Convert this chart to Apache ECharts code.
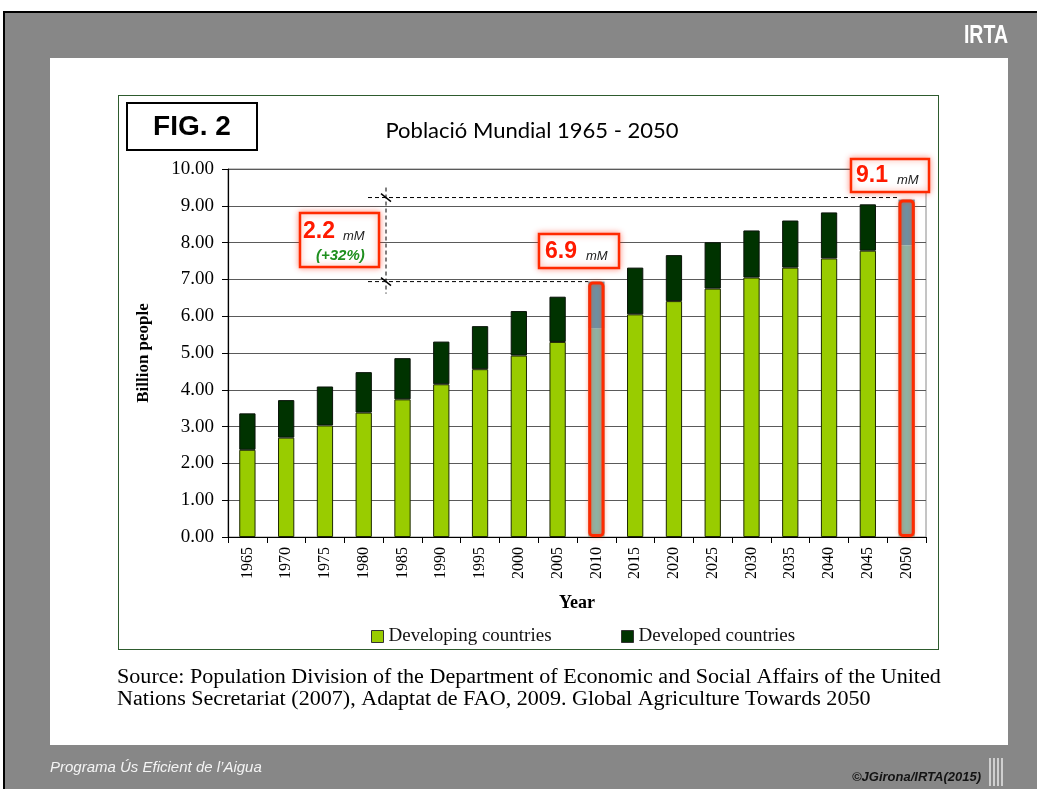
<!DOCTYPE html>
<html>
<head>
<meta charset="utf-8">
<script src="https://cdn.jsdelivr.net/npm/echarts@6/dist/echarts.min.js"></script>
<style>
html,body{margin:0;padding:0;width:1037px;height:789px;overflow:hidden;background:#fff;}
#frame{position:absolute;left:3px;top:11px;width:1040px;height:790px;background:#000;}
#gray{position:absolute;left:5px;top:13px;width:1040px;height:790px;background:#878787;}
#panel{position:absolute;left:50px;top:58px;width:958px;height:687px;background:#fff;}
#box{position:absolute;left:118px;top:95px;width:821px;height:555px;border:1.5px solid #2e5b2e;box-sizing:border-box;}
#chart{position:absolute;left:0;top:0;width:1037px;height:789px;}
</style>
</head>
<body>
<div id="frame"></div><div id="gray"></div><div id="panel"></div><div id="box"></div>
<div id="chart"></div>
<script>
// ---- data ----
const years = ['1965','1970','1975','1980','1985','1990','1995','2000','2005','2010','2015','2020','2025','2030','2035','2040','2045','2050'];
const developing = [2.37, 2.70, 3.03, 3.38, 3.74, 4.15, 4.56, 4.93, 5.30, 5.67, 6.05, 6.41, 6.75, 7.05, 7.32, 7.57, 7.78, 7.93];
const developed  = [0.99, 1.02, 1.06, 1.10, 1.12, 1.16, 1.17, 1.21, 1.23, 1.27, 1.27, 1.25, 1.26, 1.28, 1.28, 1.25, 1.26, 1.24];
const highlightYears = ['2010', '2050'];
const yMin = 0, yMax = 10, yStep = 1;
const seriesNames = ['Developing countries', 'Developed countries'];

const hiIdx = highlightYears.map(y => years.indexOf(y));
const totals = years.map((y, i) => +(developing[i] + developed[i]).toFixed(2));

const GREEN = '#99cc00', DARK = '#003300';
const HI_LOW = '#8fb3a3', HI_TOP = '#6f90a1', RED = '#ff2a00';
const serif = '"Liberation Serif","Times New Roman",serif';
const sans = '"Liberation Sans",Arial,sans-serif';

const devData = developing.map((v, i) => hiIdx.includes(i) ? {value: v, itemStyle: {color: HI_LOW, borderWidth: 0}} : v);
const dvdData = developed.map((v, i) => hiIdx.includes(i) ? {value: v, itemStyle: {color: HI_TOP, borderWidth: 0}} : v);
const outlineData = totals.map((v, i) => hiIdx.includes(i) ? v : null);

const chart = echarts.init(document.getElementById('chart'), null, {renderer: 'canvas'});
const BW = '42%';
const legendText = {fontFamily: serif, fontSize: 19, color: '#111'};
chart.setOption({
  animation: false,
  backgroundColor: 'transparent',
  grid: {left: 228, top: 169, width: 698, height: 368, show: true, borderColor: '#8a8a8a', borderWidth: 1, backgroundColor: 'transparent'},
  legend: [
    {data: [seriesNames[0]], left: 366, top: 622, itemWidth: 12, itemHeight: 12, icon: 'rect', itemGap: 0,
     textStyle: legendText, itemStyle: {borderColor: '#333', borderWidth: 1}},
    {data: [seriesNames[1]], left: 616, top: 622, itemWidth: 12, itemHeight: 12, icon: 'rect', itemGap: 0,
     textStyle: legendText, itemStyle: {borderColor: '#333', borderWidth: 1}}
  ],
  xAxis: {
    type: 'category', data: years, boundaryGap: true,
    axisLine: {lineStyle: {color: '#000', width: 1.2}},
    axisTick: {show: true, inside: false, length: 6, alignWithLabel: false, lineStyle: {color: '#000'}},
    axisLabel: {rotate: 90, fontFamily: serif, fontSize: 16, color: '#000', margin: 10, interval: 0},
    name: 'Year', nameLocation: 'middle', nameGap: 57,
    nameTextStyle: {fontFamily: serif, fontSize: 18, fontWeight: 'bold', color: '#000'}
  },
  yAxis: {
    type: 'value', min: yMin, max: yMax, interval: yStep,
    axisLine: {show: true, lineStyle: {color: '#000', width: 1.2}},
    axisTick: {show: true, inside: false, length: 6, lineStyle: {color: '#000'}},
    axisLabel: {formatter: v => v.toFixed(2), fontFamily: serif, fontSize: 19, color: '#000', margin: 14},
    splitLine: {show: true, lineStyle: {color: '#5a5a5a', width: 1}},
    name: 'Billion people', nameLocation: 'middle', nameGap: 76,
    nameTextStyle: {fontFamily: serif, fontSize: 17, fontWeight: 'bold', color: '#000'}
  },
  series: [
    {name: seriesNames[0], type: 'bar', stack: 'pop', data: devData, barWidth: BW, barGap: '-100%',
     itemStyle: {color: GREEN, borderColor: '#1e2a00', borderWidth: 1}},
    {name: seriesNames[1], type: 'bar', stack: 'pop', data: dvdData, barWidth: BW, barGap: '-100%',
     itemStyle: {color: DARK, borderColor: '#0a140a', borderWidth: 1}},
    {name: 'highlight', type: 'bar', data: outlineData, barWidth: BW, barGap: '-100%', silent: true, z: 5,
     itemStyle: {color: 'rgba(0,0,0,0)', borderColor: RED, borderWidth: 3, borderRadius: 3,
                 shadowBlur: 4, shadowColor: 'rgba(255,60,0,0.45)'}}
  ]
});

// annotation geometry from the library's scales
const px = (c, v) => chart.convertToPixel({gridIndex: 0}, [c, v]);
const catW = px(years[1], 0)[0] - px(years[0], 0)[0];
const half = catW * 0.42 / 2;
const yLow = px(years[hiIdx[0]], totals[hiIdx[0]])[1];
const yHigh = px(years[hiIdx[1]], totals[hiIdx[1]])[1] - 2;
const xLowEnd = px(years[hiIdx[0]], 0)[0] - half;
const xHighEnd = px(years[hiIdx[1]], 0)[0] - half;
const vx = 386;

function redBox(x, y, w, h) {
  return {type: 'rect', z: 100, shape: {x, y, width: w, height: h},
    style: {fill: '#fff', stroke: RED, lineWidth: 2.5, shadowBlur: 6, shadowColor: 'rgba(255,40,0,0.45)'}};
}
function txt(x, y, text, font, fill, align, sx) {
  const e = {type: 'text', z: 101, x, y, style: {text, font, fill, align: align || 'left', verticalAlign: 'middle'}};
  if (sx) e.scaleX = sx;
  return e;
}
const dash = {stroke: '#000', lineWidth: 1, lineDash: [4, 3]};

const elements = [
  // header logo
  txt(1008, 36, 'IRTA', 'bold 25px ' + sans, '#ffffff', 'right', 0.78),
  // FIG. 2 box
  {type: 'rect', z: 100, shape: {x: 127, y: 103, width: 130, height: 47}, style: {fill: '#fff', stroke: '#000', lineWidth: 2}},
  txt(192, 127, 'FIG. 2', 'bold 28px ' + sans, '#000', 'center'),
  // chart title
  txt(532, 131, 'Població Mundial 1965 - 2050', '22px Lato, "Open Sans", sans-serif', '#000', 'center'),
  // dashed guide lines
  {type: 'line', z: 90, shape: {x1: 368, y1: yLow, x2: xLowEnd, y2: yLow}, style: dash},
  {type: 'line', z: 90, shape: {x1: 368, y1: yHigh, x2: xHighEnd, y2: yHigh}, style: dash},
  {type: 'line', z: 90, shape: {x1: vx, y1: yHigh - 10, x2: vx, y2: yLow + 12}, style: dash},
  {type: 'line', z: 91, shape: {x1: vx - 5, y1: yHigh - 4, x2: vx + 5, y2: yHigh + 4}, style: {stroke: '#000', lineWidth: 1.5}},
  {type: 'line', z: 91, shape: {x1: vx - 5, y1: yLow - 4, x2: vx + 5, y2: yLow + 4}, style: {stroke: '#000', lineWidth: 1.5}},
  // annotation boxes
  redBox(300, 213, 79, 54),
  txt(303, 232, '2.2', 'bold 23px ' + sans, '#ff1a00'),
  txt(343, 236, 'mM', 'italic 13px ' + sans, '#222'),
  txt(316, 256, '(+32%)', 'italic bold 15px ' + sans, '#1f8f1f'),
  redBox(539, 234, 80, 34),
  txt(545, 252, '6.9', 'bold 23px ' + sans, '#ff1a00'),
  txt(586, 256, 'mM', 'italic 13px ' + sans, '#222'),
  redBox(851, 159, 78, 33),
  txt(856, 176, '9.1', 'bold 23px ' + sans, '#ff1a00'),
  txt(897, 180, 'mM', 'italic 13px ' + sans, '#222'),
  // source
  txt(117, 678, 'Source: Population Division of the Department of Economic and Social Affairs of the United', '20px ' + serif, '#000', 'left', 1.105),
  txt(117, 700, 'Nations Secretariat (2007), Adaptat de FAO, 2009. Global Agriculture Towards 2050', '20px ' + serif, '#000', 'left', 1.105),
  // footer
  txt(50, 768, 'Programa Ús Eficient de l’Aigua', 'italic 15px ' + sans, '#f4f4f4'),
  txt(981, 777, '©JGirona/IRTA(2015)', 'italic bold 13px ' + sans, '#141414', 'right')
];
[0, 4, 8, 12].forEach(d => elements.push({type: 'rect', z: 100, shape: {x: 989 + d, y: 758, width: 2, height: 28}, style: {fill: '#cfcfcf'}}));

chart.setOption({graphic: {elements}});
</script>
</body>
</html>
